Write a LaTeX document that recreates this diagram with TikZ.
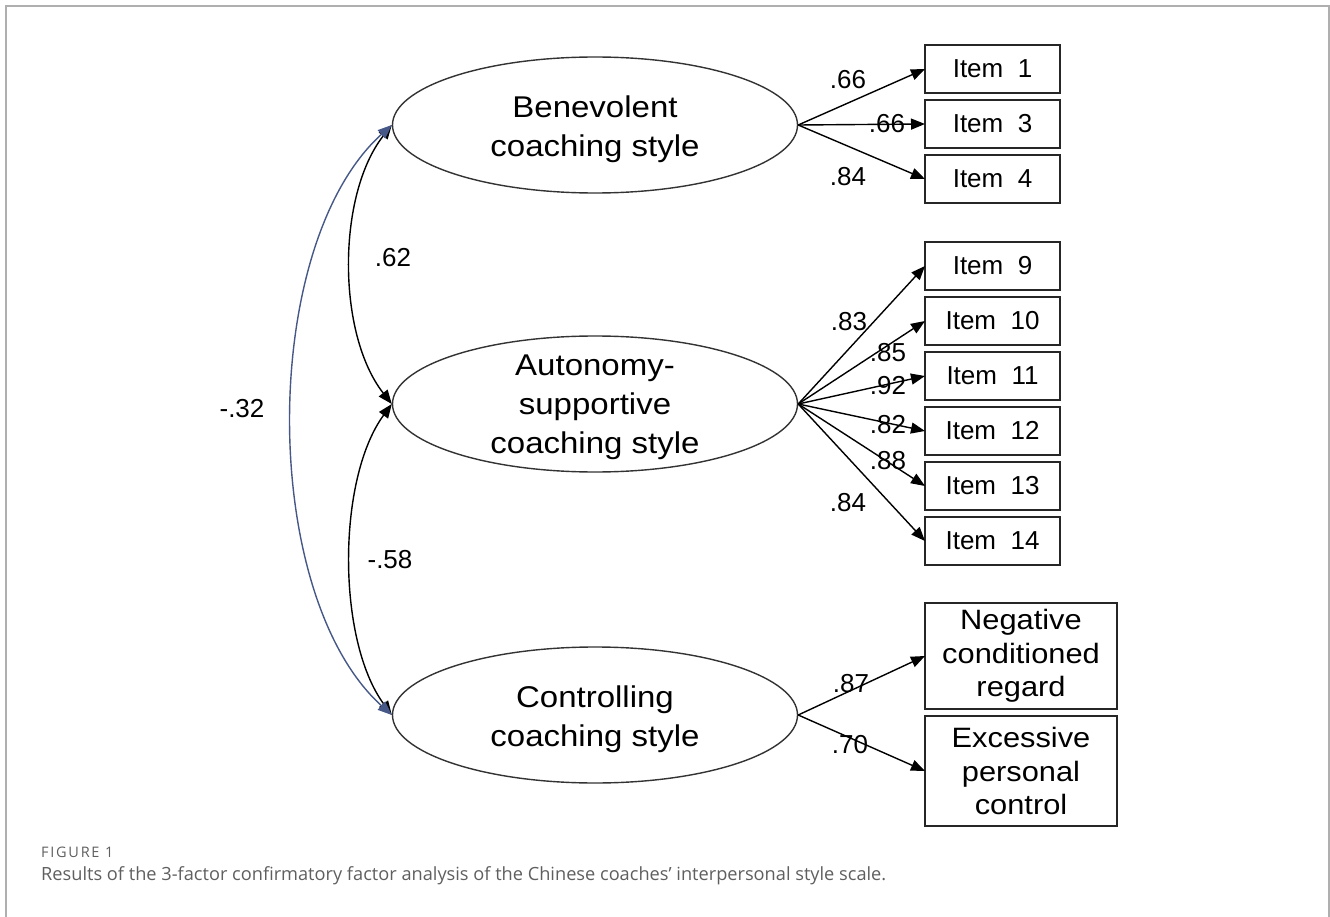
\documentclass[tikz,border=0pt]{standalone}
\usepackage{fontspec}
\setmainfont{Liberation Sans}
\newfontfamily\widefont[FakeStretch=1.1]{Liberation Sans}
\newfontfamily\capfont{Open Sans}
\newfontfamily\capnumfont[LetterSpace=12]{Open Sans}
\usepackage{tikz}
\usetikzlibrary{arrows.meta,shapes,positioning,calc}
\definecolor{covblue}{RGB}{70,88,135}
\definecolor{framegray}{RGB}{175,175,175}
\definecolor{capgray}{RGB}{95,95,95}
\tikzset{
    latent/.style={draw=black!80,ellipse,line width=1.4pt,minimum width=405pt,minimum height=136pt,inner sep=0pt},
    latent_txt/.style={align=center,inner sep=0pt,font=\widefont\fontsize{30}{39}\selectfont},
    ind/.style={draw=black!85,rectangle,line width=1.8pt,outer sep=0pt,minimum width=135pt,minimum height=48pt,inner sep=0pt,font=\fontsize{26}{30}\selectfont},
    indbig/.style={draw=black!85,rectangle,line width=1.8pt,outer sep=0pt,minimum width=192pt,align=center,inner sep=0pt,font=\widefont\fontsize{28}{33.5}\selectfont},
    load/.style={-{Triangle[length=14pt,width=11pt]},line width=1.4pt},
    cov/.style={{Triangle[length=14pt,width=11pt]}-{Triangle[length=14pt,width=11pt]},line width=1.4pt},
    coef/.style={inner sep=0pt,font=\fontsize{26}{30}\selectfont},
}

\begin{document}
\begin{tikzpicture}[x=1pt,y=-1pt]
    \useasboundingbox (0,0) rectangle (1330,917);
    \draw[framegray,line width=1.5pt] (6,917) -- (6,6) -- (1329,6) -- (1329,917);

    \node[latent] (ben) at (595,125) {};
    \node[latent] (aut) at (595,404) {};
    \node[latent] (ctl) at (595,715) {};
    \node[latent_txt] (bentxt) at ([yshift=-4pt]ben) {Benevolent\\coaching style};
    \node[latent_txt] (auttxt) at ([yshift=-3pt]aut) {Autonomy-\\supportive\\coaching style};
    \node[latent_txt] (ctltxt) at ([yshift=-4pt]ctl) {Controlling\\coaching style};

    \node[ind] (i1) at (992.5,69) {Item\ \ 1};
    \node[ind,below=7pt of i1] (i3) {Item\ \ 3};
    \node[ind,below=7pt of i3] (i4) {Item\ \ 4};
    \node[ind] (i9) at (992.5,266) {Item\ \ 9};
    \node[ind,below=7pt of i9] (i10) {Item\ \ 10};
    \node[ind,below=7pt of i10] (i11) {Item\ \ 11};
    \node[ind,below=7pt of i11] (i12) {Item\ \ 12};
    \node[ind,below=7pt of i12] (i13) {Item\ \ 13};
    \node[ind,below=7pt of i13] (i14) {Item\ \ 14};
    \node[indbig,minimum height=106pt] (neg) at (1021,656) {Negative\\conditioned\\regard};
    \node[indbig,minimum height=110pt,below=7pt of neg] (exc) {Excessive\\personal\\control};

    \foreach \t in {i1,i3,i4} \draw[load] (ben.east) -- (\t.west);
    \foreach \t in {i9,i10,i11,i12,i13,i14} \draw[load] (aut.east) -- (\t.west);
    \foreach \t in {neg,exc} \draw[load] (ctl.east) -- (\t.west);

    \node[coef] (b1) at (848,80) {.66};
    \node[coef] (b3) at (887,124) {.66};
    \node[coef] (b4) at (848,177) {.84};
    \node[coef] (a9) at (849,322) {.83};
    \node[coef] (a10) at (888,353) {.85};
    \node[coef] (a11) at (888,386) {.92};
    \node[coef] (a12) at (888,425) {.82};
    \node[coef] (a13) at (888,461) {.88};
    \node[coef] (a14) at (848,503) {.84};
    \node[coef] (c1) at (851,684) {.87};
    \node[coef] (c2) at (850,745) {.70};

    \draw[cov] (ben.west) .. controls +(-55,70) and +(-55,-70) .. (aut.west);
    \draw[cov] (aut.west) .. controls +(-55,75) and +(-55,-75) .. (ctl.west);
    \draw[cov,covblue] (ben.west) .. controls +(-133,120) and +(-133,-120) .. (ctl.west);
    \node[coef] (r1) at (393,258) {.62};
    \node[coef] (r2) at (390,560) {-.58};
    \node[coef] (r3) at (242,409) {-.32};

    \node[anchor=base west,inner sep=0pt,text=capgray,font=\capnumfont\fontsize{14.5}{16}\selectfont] (fignum) at (41,857) {FIGURE 1};
    \node[anchor=base west,inner sep=0pt,text=capgray,font=\capfont\fontsize{18.2}{21}\selectfont] (figcap) at (41,880) {Results of the 3-factor confirmatory factor analysis of the Chinese coaches’ interpersonal style scale.};
\end{tikzpicture}
\end{document}
